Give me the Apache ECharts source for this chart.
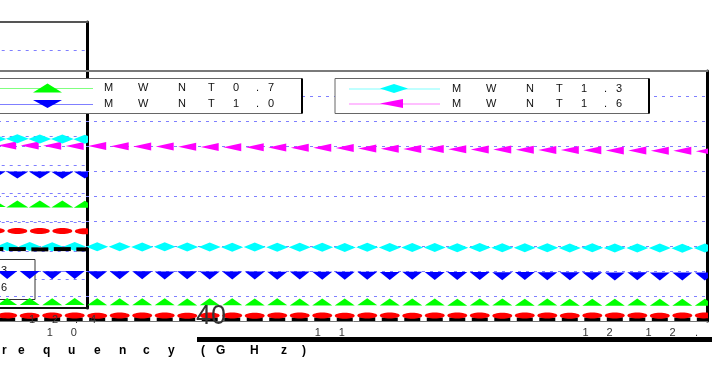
<!DOCTYPE html>
<html>
<head>
<meta charset="utf-8">
<script src="https://cdn.jsdelivr.net/npm/echarts@6/dist/echarts.min.js"></script>
<style>
  html, body { margin: 0; padding: 0; background: #fff; }
  #chart { width: 712px; height: 370px; }
</style>
</head>
<body>
<div id="chart"></div>
<script>
// wide panel: sweep points that fall inside the crop (GHz)
const freqMain = [9.796, 9.88, 9.964, 10.048, 10.132, 10.216, 10.3, 10.384, 10.468, 10.552, 10.636,
  10.72, 10.804, 10.888, 10.972, 11.056, 11.14, 11.224, 11.308, 11.392, 11.476, 11.56, 11.644,
  11.728, 11.812, 11.896, 11.98, 12.064, 12.148, 12.232, 12.316, 12.4];

const mainMWNT16 = [7.02, 7.02, 7.01, 7.0, 7.0, 6.99, 6.98, 6.98, 6.97, 6.96, 6.95, 6.95, 6.94, 6.93,
  6.93, 6.92, 6.9, 6.89, 6.88, 6.88, 6.87, 6.86, 6.86, 6.85, 6.84, 6.84, 6.83, 6.82, 6.82, 6.81, 6.81, 6.79];
const mainMWNT13 = [2.98, 2.98, 2.97, 2.98, 2.97, 2.97, 2.96, 2.97, 2.96, 2.96, 2.95, 2.96, 2.95, 2.95,
  2.95, 2.94, 2.95, 2.94, 2.94, 2.94, 2.93, 2.94, 2.93, 2.93, 2.93, 2.92, 2.93, 2.92, 2.92, 2.92, 2.91, 2.92];
const mainMWNT10 = [1.84, 1.84, 1.83, 1.84, 1.83, 1.83, 1.83, 1.82, 1.83, 1.82, 1.82, 1.82, 1.81, 1.82,
  1.81, 1.81, 1.81, 1.8, 1.81, 1.8, 1.8, 1.8, 1.79, 1.8, 1.79, 1.79, 1.79, 1.78, 1.79, 1.78, 1.78, 1.78];
const mainMWNT07 = [0.78, 0.78, 0.77, 0.78, 0.77, 0.77, 0.77, 0.77, 0.76, 0.77, 0.77, 0.76, 0.77, 0.76,
  0.76, 0.76, 0.77, 0.76, 0.76, 0.76, 0.75, 0.76, 0.76, 0.75, 0.76, 0.75, 0.75, 0.75, 0.76, 0.75, 0.75, 0.75];
const mainRed = [0.22, 0.21, 0.22, 0.22, 0.21, 0.22, 0.22, 0.22, 0.21, 0.22, 0.22, 0.21, 0.22, 0.22,
  0.22, 0.21, 0.22, 0.22, 0.21, 0.22, 0.22, 0.22, 0.21, 0.22, 0.22, 0.21, 0.22, 0.22, 0.22, 0.21, 0.22, 0.22];
const mainBlack = [0.04, 0.04, 0.05, 0.04, 0.04, 0.04, 0.05, 0.04, 0.04, 0.04, 0.04, 0.05, 0.04, 0.04,
  0.04, 0.04, 0.05, 0.04, 0.04, 0.04, 0.04, 0.04, 0.05, 0.04, 0.04, 0.04, 0.04, 0.05, 0.04, 0.04, 0.04, 0.04];

// narrow inset panel on the left
const freqInset = [12.064, 12.148, 12.232, 12.316, 12.4];
const insetMWNT13 = [5.91, 5.92, 5.91, 5.91, 5.9];
const insetMWNT10 = [4.66, 4.65, 4.65, 4.64, 4.65];
const insetMWNT07 = [3.65, 3.64, 3.64, 3.64, 3.63];
const insetRed = [2.7, 2.69, 2.69, 2.69, 2.68];
const insetBlack = [2.06, 2.06, 2.05, 2.06, 2.05];

const legendNames = ['MWNT 0.7', 'MWNT 1.0', 'MWNT 1.3', 'MWNT 1.6'];
const mainEndLabel = '12.4';
const insetEndLabel = '12.4';
const axisTitle = 'Frequency (GHz)';
const strayLabel = '40';

const FONT = 'Liberation Sans, Arial, sans-serif';
const COLORS = { g: '#00ff00', b: '#0000ff', c: '#00ffff', m: '#ff00ff', r: '#ff0000', k: '#000000' };

// flat marker shapes (the original draws squashed triangles / ellipses)
function glyph(kind, cx, cy, w, h, color) {
  const hw = w / 2, hh = h / 2;
  const style = { fill: color };
  if (kind === 'ellipse') return { type: 'ellipse', shape: { cx, cy, rx: hw, ry: hh }, style };
  if (kind === 'rect') return { type: 'rect', shape: { x: cx - hw, y: cy - hh, width: w, height: h }, style };
  let pts;
  if (kind === 'up') pts = [[cx - hw, cy + hh], [cx, cy - hh], [cx + hw, cy + hh]];
  else if (kind === 'down') pts = [[cx - hw, cy - hh], [cx + hw, cy - hh], [cx, cy + hh]];
  else if (kind === 'left') pts = [[cx - hw, cy], [cx + hw, cy - hh], [cx + hw, cy + hh]];
  else pts = [[cx - hw, cy], [cx, cy - hh], [cx + hw, cy], [cx, cy + hh]];
  return { type: 'polygon', shape: { points: pts }, style };
}

function markers(name, panel, xs, ys, kind, w, h, color) {
  return {
    name,
    type: 'custom',
    xAxisIndex: panel === 0 ? 0 : 2,
    yAxisIndex: panel,
    clip: true,
    silent: true,
    z: 3,
    data: xs.map((x, i) => [x, ys[i]]),
    renderItem: (params, api) => {
      const p = api.coord([api.value(0), api.value(1)]);
      return glyph(kind, p[0], p[1], w, h, color);
    },
  };
}

// rich-text helper: every character in its own fixed-width cell
function spread(chars, widths, align, extra) {
  const rich = {};
  const text = chars.map((c, i) => {
    rich['c' + i] = Object.assign({ width: widths[i], align }, extra || {});
    return '{c' + i + '|' + c + '}';
  }).join('');
  return { text, rich };
}

const tickRich = {
  d: { width: 24, align: 'center', fontSize: 11, fontFamily: FONT, color: '#333' },
  pad: { width: 46 },
};

const MAIN_MAX = 12.41;

const graphics = [];

function addLegendBox(x, y, w, h) {
  graphics.push({ type: 'rect', z: 5, silent: true, shape: { x, y, width: w, height: h },
    style: { fill: '#fff', stroke: '#666', lineWidth: 1 } });
  graphics.push({ type: 'line', z: 5, silent: true, shape: { x1: x + w, y1: y, x2: x + w, y2: y + h },
    style: { stroke: '#000', lineWidth: 2 } });
}

const legendWidths = [34, 40, 30, 25, 23, 12, 10];
function addLegendRow(name, kind, color, x1, x2, y, mx, mw, mh, tx) {
  graphics.push({ type: 'line', z: 6, silent: true, shape: { x1, y1: y + 0.5, x2, y2: y + 0.5 },
    style: { stroke: color, opacity: 0.5, lineWidth: 1 } });
  const g = glyph(kind, mx, y, mw, mh, color);
  g.z = 6; g.silent = true;
  graphics.push(g);
  const t = spread(name.replace(/ /g, '').split(''), legendWidths, 'left');
  graphics.push({ type: 'text', z: 6, silent: true, x: tx, y: y,
    style: { text: t.text, rich: t.rich, font: '11px ' + FONT, fill: '#111', verticalAlign: 'middle' } });
}

addLegendBox(-10, 78.5, 312, 35);
addLegendRow(legendNames[0], 'up', COLORS.g, 0, 93, 88, 47.5, 29, 9, 104);
addLegendRow(legendNames[1], 'down', COLORS.b, 0, 93, 104, 47.5, 29, 8, 104);
addLegendBox(335, 78.5, 314, 35);
addLegendRow(legendNames[2], 'diamond', COLORS.c, 349, 440, 88.5, 394, 28, 9, 452);
addLegendRow(legendNames[3], 'left', COLORS.m, 349, 440, 103.5, 391.5, 23, 9, 452);

// inset legend, mostly cut off by the left edge
graphics.push({ type: 'rect', z: 1, silent: true, shape: { x: -20, y: 259.5, width: 55, height: 40 },
  style: { fill: '#fff', stroke: '#333', lineWidth: 1 } });
[legendNames[2], legendNames[3]].forEach((name, i) => {
  const t = spread(name.replace(/ /g, '').split(''), legendWidths, 'left');
  graphics.push({ type: 'text', z: 1, silent: true, x: -163, y: 271 + i * 17,
    style: { text: t.text, rich: t.rich, font: '11px ' + FONT, fill: '#111', verticalAlign: 'middle' } });
});

// inset's end-of-axis label, printed over the wide panel's bottom markers
const insetTick = spread(insetEndLabel.split(''), [23, 23, 15, 10], 'left');
graphics.push({ type: 'text', z: 4, silent: true, x: 29, y: 320,
  style: { text: insetTick.text, rich: insetTick.rich, font: '11px ' + FONT, fill: '#333', verticalAlign: 'middle' } });

// axis title with the widely spaced letters of the original
const titleChars = axisTitle.split('');
const titleWidths = [26, 16, 25, 25, 26, 25, 24, 25, 25, 8, 15, 34, 31, 21, 10];
const title = spread(titleChars, titleWidths, 'left');
graphics.push({ type: 'text', z: 4, silent: true, x: -24, y: 351,
  style: { text: title.text, rich: title.rich, font: 'bold 12px ' + FONT, fill: '#000', verticalAlign: 'middle' } });

graphics.push({ type: 'text', z: 4, silent: true, x: 211, y: 317,
  style: { text: strayLabel, font: '27px Liberation Sans Narrow, ' + FONT, fill: '#333', align: 'center', verticalAlign: 'middle' } });
graphics.push({ type: 'rect', z: 4, silent: true, shape: { x: 197, y: 337, width: 520, height: 5 },
  style: { fill: '#000' } });

const splitDash = { show: true, lineStyle: { color: '#7f7fff', type: [3, 5], width: 1 } };
const hidden = { axisLabel: { show: false }, axisTick: { show: false }, splitLine: { show: false } };

const chart = echarts.init(document.getElementById('chart'));
chart.setOption({
  animation: false,
  backgroundColor: '#fff',
  grid: [
    { left: -474, width: 1181.5, top: 71, height: 250, outerBoundsMode: 'none', containLabel: false },
    { left: -22.3, width: 109.8, top: 22, height: 286, outerBoundsMode: 'none', containLabel: false },
  ],
  xAxis: [
    {
      gridIndex: 0, type: 'value', min: 8, max: MAIN_MAX, interval: 1, position: 'bottom', z: 2,
      axisLine: { lineStyle: { color: '#777', width: 1 } },
      axisTick: { show: false },
      splitLine: { show: false },
      axisLabel: {
        margin: 6, showMaxLabel: true, rich: tickRich,
        formatter: (v) => {
          if (v >= MAIN_MAX - 1e-9) return mainEndLabel.split('').map((c) => '{d|' + c + '}').join('') + '{pad| }';
          if (Number.isInteger(v)) return String(v).split('').map((c) => '{d|' + c + '}').join('');
          return '';
        },
      },
    },
    Object.assign({ gridIndex: 0, type: 'value', min: 8, max: MAIN_MAX, position: 'top', z: 2,
      axisLine: { lineStyle: { color: '#7a7a7a', width: 2 } } }, hidden),
    Object.assign({ gridIndex: 1, type: 'value', min: 12, max: MAIN_MAX, position: 'bottom', z: 4,
      axisLine: { lineStyle: { color: '#111', width: 2 } } }, hidden),
    Object.assign({ gridIndex: 1, type: 'value', min: 12, max: MAIN_MAX, position: 'top', z: 0,
      axisLine: { lineStyle: { color: '#555', width: 2 } } }, hidden),
  ],
  yAxis: [
    {
      gridIndex: 0, type: 'value', min: 0, max: 10, interval: 1, position: 'right', z: 2,
      axisLine: { show: true, lineStyle: { color: '#000', width: 3 } },
      axisTick: { show: false }, axisLabel: { show: false }, splitLine: splitDash,
    },
    {
      gridIndex: 1, type: 'value', min: 0, max: 10, interval: 1, position: 'right', z: 0,
      axisLine: { show: true, lineStyle: { color: '#000', width: 3 } },
      axisTick: { show: false }, axisLabel: { show: false }, splitLine: splitDash,
    },
  ],
  series: [
    markers('main black', 0, freqMain, mainBlack, 'rect', 16, 5, COLORS.k),
    markers('main red', 0, freqMain, mainRed, 'ellipse', 20, 6, COLORS.r),
    markers(legendNames[0], 0, freqMain, mainMWNT07, 'up', 20, 7, COLORS.g),
    markers(legendNames[1], 0, freqMain, mainMWNT10, 'down', 20, 8, COLORS.b),
    markers(legendNames[2], 0, freqMain, mainMWNT13, 'diamond', 22, 9, COLORS.c),
    markers(legendNames[3], 0, freqMain, mainMWNT16, 'left', 18, 8, COLORS.m),
    markers('inset black', 1, freqInset, insetBlack, 'rect', 17, 4, COLORS.k),
    markers('inset red', 1, freqInset, insetRed, 'ellipse', 20, 6, COLORS.r),
    markers('inset ' + legendNames[0], 1, freqInset, insetMWNT07, 'up', 22, 7, COLORS.g),
    markers('inset ' + legendNames[1], 1, freqInset, insetMWNT10, 'down', 22, 7, COLORS.b),
    markers('inset ' + legendNames[2], 1, freqInset, insetMWNT13, 'diamond', 23, 9, COLORS.c),
  ],
  graphic: { elements: graphics },
});
</script>
</body>
</html>
